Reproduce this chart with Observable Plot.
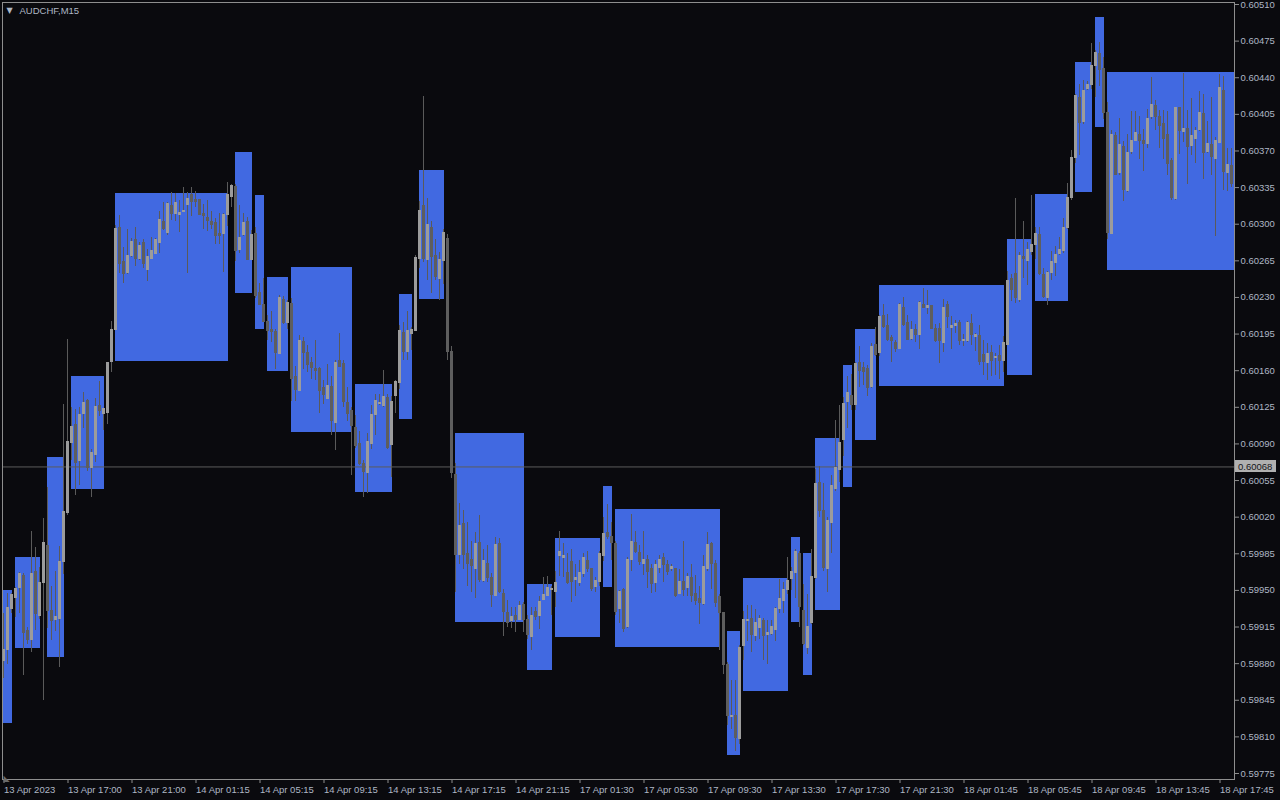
<!DOCTYPE html>
<html><head><meta charset="utf-8">
<script src="https://cdn.jsdelivr.net/npm/d3@7"></script>
<script src="https://cdn.jsdelivr.net/npm/@observablehq/plot@0.6"></script>
<style>
html,body{margin:0;padding:0;background:#0a0a0e;overflow:hidden}
#chart{position:relative;width:1280px;height:800px}
</style></head><body><div id="chart"></div>
<script>
// AUDCHF M15 — prices in points (1e-5)
const symbol = "AUDCHF,M15";
const open = [
59883,59893,59932,59943,59952,59964,59911,59903,59968,59926,
59957,59992,59930,59922,59923,59977,60024,60091,60108,60074,
60119,60131,60067,60079,60126,60119,60120,60168,60199,60296,
60264,60253,60270,60285,60267,60282,60256,60267,60272,60282,
60302,60292,60317,60310,60309,60312,60318,60328,60323,60323,
60310,60306,60302,60301,60291,60291,60309,60326,60336,60275,
60290,60302,60266,60291,60234,60223,60207,60199,60197,60176,
60228,60206,60224,60154,60141,60187,60177,60167,60162,60162,
60143,60133,60144,60110,60169,60166,60129,60121,60105,60090,
60071,60062,60090,60118,60128,60126,60134,60089,60136,60148,
60196,60178,60195,60198,60267,60317,60266,60296,60270,60248,
60265,60286,60178,60060,59984,60013,59985,59979,59970,59995,
59959,59975,59962,59945,59994,59947,59928,59921,59926,59922,
59936,59922,59905,59929,59926,59941,59945,59950,59948,59983,
59981,59967,59977,59960,59957,59966,59978,59970,59953,59958,
59983,60005,60001,59994,59932,59950,59915,59979,59995,59986,
59975,59979,59970,59957,59971,59981,59974,59970,59970,59947,
59958,59952,59962,59947,59942,59937,59970,59994,59975,59944,
59928,59879,59829,59830,59808,59897,59921,59923,59906,59914,
59921,59907,59908,59912,59932,59940,59950,59961,59967,59985,
59930,59895,59919,59962,60053,60026,59970,60014,60047,60065,
60094,60130,60136,60127,60167,60163,60162,60144,60185,60177,
60212,60203,60191,60186,60181,60220,60206,60190,60199,60194,
60223,60220,60222,60200,60200,60186,60223,60201,60203,60206,
60188,60188,60205,60192,60193,60175,60167,60177,60172,60174,
60169,60185,60248,60252,60228,60269,60265,60273,60280,60290,
60251,60229,60253,60263,60272,60274,60296,60325,60363,60421,
60398,60429,60433,60451,60463,60448,60406,60291,60384,60349,
60374,60332,60369,60380,60385,60380,60377,60402,60413,60402,
60396,60385,60360,60324,60411,60388,60391,60375,60381,60390,
60405,60369,60376,60362,60378,60427,60349,60356];
const high = [
59928,59947,59947,59953,59967,59966,59915,60006,59991,59972,
60019,60048,59954,59968,59992,60128,60190,60125,60123,60125,
60139,60132,60085,60133,60150,60124,60168,60207,60299,60308,
60278,60295,60286,60297,60283,60285,60276,60287,60286,60312,
60321,60321,60330,60329,60323,60335,60330,60335,60331,60324,
60319,60323,60312,60305,60310,60310,60340,60338,60338,60318,
60310,60306,60294,60297,60243,60248,60213,60217,60199,60232,
60231,60227,60229,60164,60194,60192,60184,60173,60189,60163,
60151,60166,60154,60170,60196,60170,60144,60125,60117,60102,
60074,60100,60127,60137,60137,60160,60137,60135,60151,60203,
60206,60217,60201,60270,60322,60422,60325,60303,60285,60273,
60295,60290,60183,60071,60033,60026,60015,59997,60005,60022,
59989,59993,59966,60001,60000,59951,59940,59934,59934,59939,
59938,59926,59934,59934,59944,59962,59963,59954,59968,60006,
59995,59985,59989,59975,59979,59985,59987,59971,59962,59987,
60020,60032,60015,59997,59950,59952,59981,60023,60006,59993,
60006,59983,59975,59979,59983,59985,59979,59975,59971,59970,
59997,59966,59975,59964,59954,59983,60005,59996,59979,59946,
59929,59881,59864,59864,59897,59930,59936,59936,59932,59926,
59923,59921,59921,59934,59960,59958,59981,59972,59989,59987,
59956,59946,59989,60066,60068,60052,60020,60060,60112,60127,
60134,60154,60156,60168,60183,60168,60165,60186,60201,60213,
60223,60214,60194,60189,60224,60230,60213,60207,60204,60226,
60239,60237,60222,60204,60205,60228,60226,60212,60208,60208,
60195,60207,60214,60196,60203,60189,60186,60184,60176,60184,
60193,60255,60252,60325,60273,60303,60283,60327,60297,60297,
60258,60255,60274,60279,60287,60305,60339,60370,60424,60434,
60437,60436,60473,60466,60474,60459,60416,60390,60388,60401,
60379,60386,60408,60408,60403,60391,60410,60440,60418,60409,
60409,60408,60363,60412,60412,60444,60409,60420,60392,60427,
60424,60398,60421,60383,60443,60441,60372,60372];
const low = [
59866,59879,59928,59924,59928,59869,59898,59891,59912,59922,
59845,59914,59902,59911,59876,59965,60022,60074,60041,60050,
60105,60064,60039,60072,60116,60103,60109,60158,60198,60253,
60243,60252,60268,60260,60265,60258,60245,60266,60271,60272,
60294,60289,60304,60303,60292,60311,60253,60307,60316,60308,
60295,60293,60295,60281,60281,60254,60298,60316,60264,60272,
60288,60265,60265,60229,60222,60206,60189,60187,60161,60175,
60204,60199,60131,60131,60140,60161,60158,60152,60151,60119,
60128,60132,60098,60084,60163,60125,60111,60060,60086,60069,
60039,60043,60085,60098,60127,60125,60085,60058,60119,60142,
60170,60170,60179,60198,60258,60263,60246,60234,60246,60227,
60242,60170,60057,59948,59975,59970,59954,59948,59942,59958,
59958,59958,59934,59944,59947,59906,59915,59914,59910,59921,
59910,59903,59893,59921,59913,59940,59944,59926,59934,59963,
59962,59956,59938,59944,59954,59962,59967,59949,59948,59954,
59978,59999,59979,59926,59918,59910,59914,59968,59985,59974,
59964,59952,59947,59948,59966,59958,59964,59968,59943,59946,
59944,59944,59938,59936,59917,59936,59968,59951,59934,59893,
59870,59821,59817,59796,59803,59883,59901,59891,59901,59903,
59883,59879,59907,59901,59928,59928,59946,59950,59942,59915,
59897,59889,59917,59960,60020,59968,59948,59985,60045,60053,
60078,60105,60122,60122,60144,60146,60135,60143,60174,60174,
60200,60188,60168,60177,60180,60202,60189,60189,60187,60180,
60219,60214,60200,60187,60167,60177,60200,60180,60196,60184,
60183,60187,60184,60178,60165,60155,60151,60154,60155,60152,
60158,60184,60226,60224,60225,60248,60241,60270,60266,60251,
60229,60222,60246,60250,60270,60272,60295,60323,60358,60366,
60395,60428,60429,60421,60432,60400,60285,60290,60347,60347,
60322,60330,60367,60380,60362,60350,60372,60400,60390,60372,
60362,60347,60323,60323,60367,60378,60338,60366,60358,60389,
60343,60368,60347,60288,60377,60332,60331,60335];
const close = [
59893,59933,59946,59951,59966,59909,59903,59966,59927,59957,
59995,59930,59921,59925,59977,60025,60092,60106,60072,60118,
60129,60067,60081,60125,60121,60123,60167,60199,60295,60262,
60252,60270,60283,60267,60279,60262,60269,60274,60285,60304,
60295,60319,60310,60320,60311,60313,60324,60321,60321,60309,
60308,60303,60299,60289,60289,60309,60328,60337,60274,60287,
60301,60266,60290,60231,60223,60207,60198,60197,60177,60229,
60206,60225,60152,60142,60188,60177,60165,60163,60160,60141,
60137,60145,60112,60167,60164,60130,60119,60107,60088,60071,
60063,60092,60118,60131,60129,60135,60086,60130,60149,60198,
60178,60198,60199,60268,60313,60267,60299,60269,60250,60266,
60292,60178,60062,59984,60012,59984,59975,59973,59994,59960,
59978,59962,59946,59993,59948,59929,59919,59925,59922,59935,
59922,59907,59926,59925,59939,59946,59952,59951,59957,59987,
59983,59957,59958,59962,59967,59981,59970,59951,59959,59985,
60004,60001,59995,59929,59948,59913,59979,59996,59987,59977,
59979,59968,59956,59974,59979,59974,59968,59972,59945,59958,
59950,59963,59945,59940,59938,59972,59993,59975,59938,59928,
59879,59830,59830,59809,59895,59922,59922,59907,59919,59923,
59906,59909,59915,59932,59942,59950,59959,59968,59987,59934,
59899,59915,59963,60052,60026,59971,60016,60050,60067,60091,
60128,60139,60127,60166,60160,60159,60143,60183,60175,60211,
60202,60189,60188,60181,60223,60204,60189,60199,60194,60225,
60220,60222,60200,60188,60188,60220,60211,60203,60205,60188,
60189,60206,60194,60194,60168,60168,60176,60169,60173,60169,
60186,60246,60237,60229,60270,60267,60275,60280,60291,60252,
60230,60253,60264,60271,60275,60296,60325,60363,60423,60397,
60427,60433,60451,60464,60447,60406,60292,60385,60347,60376,
60333,60368,60380,60387,60380,60377,60401,60414,60402,60394,
60381,60358,60325,60411,60389,60391,60374,60384,60389,60406,
60368,60377,60364,60380,60430,60350,60357,60338];

// blue zones: start/end bar index, top/bottom price (points)
const boxStart  = [0,3,11,17,28,58,63,66,72,88,99,104,113,131,138,150,153,181,185,197,200,203,210,213,219,251,258,268,273,276];
const boxEnd    = [2,9,15,25,56,62,65,71,87,97,102,110,130,137,149,152,179,184,196,199,202,209,212,218,250,257,266,272,275,308];
const boxTop    = [59950,59981,60077,60154,60329,60369,60327,60249,60259,60147,60233,60351,60100,59956,60000,60049,60027,59911,59961,60001,59985,60095,60165,60199,60241,60285,60328,60455,60498,60445];
const boxBottom = [59823,59894,59886,60046,60169,60234,60199,60159,60101,60044,60113,60228,59919,59873,59905,59953,59895,59792,59853,59919,59869,59931,60048,60093,60145,60155,60226,60330,60392,60256];

const levelPrice = [60068];
const priceTicks = [60510,60475,60440,60405,60370,60335,60300,60265,60230,60195,60160,60125,60090,60055,60020,59985,59950,59915,59880,59845,59810,59775];
const timeTickIndex = [0,16,32,48,64,80,96,112,128,144,160,176,192,208,224,240,256,272,288,304];
const timeTickLabels = ["13 Apr 2023","13 Apr 17:00","13 Apr 21:00","14 Apr 01:15","14 Apr 05:15","14 Apr 09:15","14 Apr 13:15","14 Apr 17:15","14 Apr 21:15","17 Apr 01:30","17 Apr 05:30","17 Apr 09:30","17 Apr 13:30","17 Apr 17:30","17 Apr 21:30","18 Apr 01:45","18 Apr 05:45","18 Apr 09:45","18 Apr 13:45","18 Apr 17:45"];

const candles = open.map((o, i) => ({i, o, h: high[i], l: low[i], c: close[i], up: close[i] >= o}));
const boxes = boxStart.map((s, k) => ({s, e: boxEnd[k], top: boxTop[k], bot: boxBottom[k]}));
const labelOf = new Map(timeTickIndex.map((t, k) => [t, timeTickLabels[k]]));
const fmt = d => (d / 1e5).toFixed(5);

const AX = "#8e8e8e", TX = "#aeb7c5";
const chart = Plot.plot({
  width: 1280, height: 800,
  marginLeft: 2, marginRight: 46, marginTop: 2, marginBottom: 21,
  style: {background: "#0a0a0e", color: TX, fontFamily: "'Liberation Sans', Arial, sans-serif", fontSize: "9.5px"},
  x: {type: "linear", domain: [-0.375, 307.625]},
  y: {type: "linear", domain: [59775, 60510], range: [773, 4]},
  marks: [
    Plot.rect(boxes, {x1: "s", x2: "e", y1: "bot", y2: "top", fill: "#4169e1", insetLeft: -0.5, insetRight: -0.5, clip: true, shapeRendering: "crispEdges"}),
    Plot.ruleY(levelPrice, {stroke: "#5c5c5c"}),
    Plot.ruleX(candles, {x: "i", y1: "l", y2: "h", stroke: "#5a5a5a", dx: -0.5, shapeRendering: "crispEdges"}),
    Plot.rect(candles, {filter: d => d.up, x1: "i", x2: "i", y1: "o", y2: "c", fill: "#9c9c9c", insetLeft: -1.5, insetRight: -1.5, insetTop: -0.5, insetBottom: -0.5, shapeRendering: "crispEdges"}),
    Plot.rect(candles, {filter: d => !d.up, x1: "i", x2: "i", y1: "o", y2: "c", fill: "#5e5e5e", insetLeft: -1.5, insetRight: -1.5, insetTop: -0.5, insetBottom: -0.5, shapeRendering: "crispEdges"}),
    Plot.frame({stroke: AX}),
    Plot.axisY(priceTicks, {anchor: "right", tickSize: 4, tickPadding: 2, tickFormat: fmt, stroke: AX, fill: TX, label: null}),
    Plot.axisX(timeTickIndex, {anchor: "bottom", tickSize: 4, tickPadding: 3, textAnchor: "start", tickFormat: d => labelOf.get(d), stroke: AX, fill: TX, label: null}),
    Plot.text([symbol], {frameAnchor: "top-left", dx: 17, dy: 5, lineAnchor: "top", textAnchor: "start", fill: TX}),
    Plot.text(["\u25BC"], {frameAnchor: "top-left", dx: 4, dy: 5, lineAnchor: "top", textAnchor: "start", fill: TX, fontSize: 8, fontFamily: "DejaVu Sans"}),
    Plot.text(["\u25E3"], {frameAnchor: "bottom-left", dx: 1, dy: 1, lineAnchor: "bottom", textAnchor: "start", fill: "#6a6a6a", fontSize: 8, fontFamily: "DejaVu Sans"})
  ]
});

// current level tag on the price axis
const ys = chart.scale("y");
const yy = ys.apply(levelPrice[0]);
const svg = d3.select(chart);
svg.append("rect").attr("x", 1235).attr("y", Math.round(yy) - 6).attr("width", 41).attr("height", 12).attr("fill", "#b0b0b0");
svg.append("text").attr("x", 1238).attr("y", Math.round(yy) + 3.5).attr("fill", "#15151a").attr("text-anchor", "start")
  .attr("font-family", "'Liberation Sans', Arial, sans-serif").attr("font-size", "9.5px").text(fmt(levelPrice[0]));

document.getElementById("chart").appendChild(chart);
</script>
</body></html>
